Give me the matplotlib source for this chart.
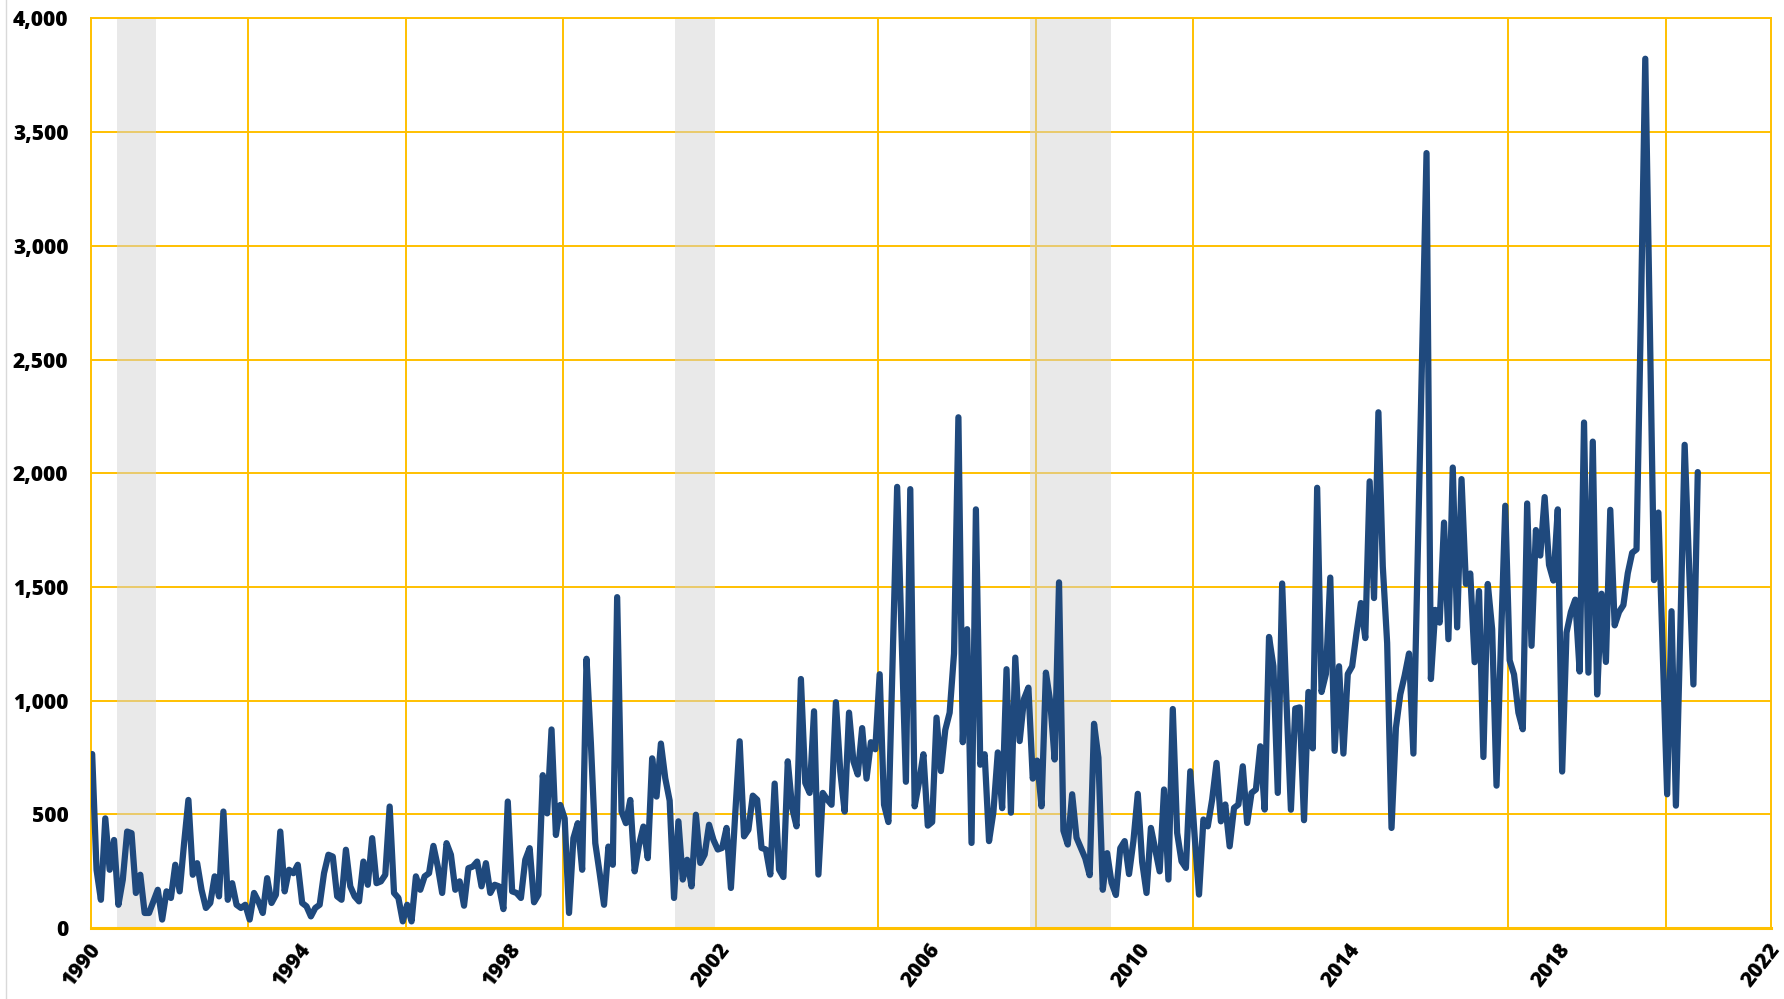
import numpy as np
import matplotlib
matplotlib.use("Agg")
from matplotlib import pyplot as plt
from matplotlib.ticker import FuncFormatter, MultipleLocator, FixedLocator
from matplotlib.lines import Line2D
from matplotlib.transforms import ScaledTranslation

# monthly values, Jan 1990 onwards
vals_1990s = [
    765, 256, 124, 482, 256, 387, 102, 212, 424, 417, 154, 234,
    66, 66, 117, 168, 37, 161, 132, 278, 161, 370, 563, 234,
    285, 168, 88, 110, 227, 139, 512, 124, 197, 102, 88, 102,
    37, 154, 117, 66, 219, 110, 146, 424, 161, 256, 241, 278,
    110, 95, 51, 88, 102, 241, 322, 314, 139, 124, 344, 183,
    139, 117, 292, 190, 395, 197, 205, 234, 534, 154, 132, 29,
    102, 29, 227, 168, 227, 241, 361, 270, 154, 373, 322, 168,
    205, 98, 263, 270, 292, 183, 285, 154, 190, 183, 83, 556,
    161, 154, 132, 300, 351, 113, 146, 672, 504, 873, 409, 541,
    482, 66, 395, 461, 256, 1184, 811, 373, 241, 102, 358, 278,
]
vals_2000s = [
    1455, 512, 461, 563, 249, 366, 446, 307, 746, 578, 811, 658,
    560, 132, 469, 213, 300, 183, 498, 286, 323, 454, 388, 345,
    352, 440, 176, 505, 821, 403, 432, 582, 564, 352, 345, 235,
    635, 257, 224, 733, 528, 447, 1095, 638, 594, 953, 235, 594,
    565, 542, 993, 688, 512, 947, 733, 675, 879, 657, 817, 786,
    1116, 542, 466, 1200, 1940, 1290, 643, 1930, 535, 642, 764, 450,
    466, 925, 690, 871, 947, 1207, 2246, 817, 1314, 374, 1841, 718,
    764, 382, 510, 772, 527, 1138, 507, 1189, 822, 1008, 1057, 657,
    736, 535, 1123, 993, 741, 1520, 428, 367, 588, 397, 351, 306,
    232, 898, 749, 168, 329, 199, 145, 351, 382, 237, 382, 590,
]
vals_2010s = [
    290, 154, 440, 345, 249, 609, 213, 963, 418, 293, 264, 689,
    403, 147, 477, 447, 565, 726, 469, 543, 359, 528, 543, 711,
    462, 594, 609, 799, 521, 1280, 1151, 594, 1515, 990, 520, 965,
    970, 474, 1038, 790, 1936, 1038, 1117, 1541, 779, 1151, 767, 1117,
    1151, 1298, 1429, 1275, 1964, 1451, 2268, 1591, 1253, 440, 880, 1027,
    1110, 1207, 767, 1650, 2530, 3408, 1095, 1399, 1343, 1783, 1270, 2025,
    1322, 1974, 1513, 1559, 1169, 1482, 752, 1513, 1314, 626, 1250, 1857,
    1177, 1115, 947, 874, 1867, 1241, 1750, 1638, 1895, 1597, 1528, 1841,
    688, 1299, 1390, 1444, 1128, 2223, 1123, 2139, 1027, 1470, 1170, 1839,
    1331, 1390, 1420, 1560, 1650, 1665, 2700, 3823, 2700, 1530, 1827, 1200,
]
vals_2020 = [588, 1393, 538, 1300, 2125, 1600, 1071, 2005]

recessions = [(1990.50, 1991.24), (2001.13, 2001.90), (2007.89, 2009.44)]
label_years = [1990, 1994, 1998, 2002, 2006, 2010, 2014, 2018, 2022]
grid_years = list(range(1990, 2021, 3))

values = np.array(vals_1990s + vals_2000s + vals_2010s + vals_2020, dtype=float)
months = np.arange(len(values))
x = 1990 + (months + 0.35) / 12.0

GOLD = "#FFC000"
BLUE = "#1F497D"
FONT = "Open Sans"

fig = plt.figure(figsize=(17.84, 9.99), dpi=100)
ax = fig.add_axes([0.0508, 0.0711, 0.9417, 0.9104])

for a, b in recessions:
    ax.axvspan(a, b, color="#D4D4D4", alpha=0.5, lw=0, zorder=1.5)

ax.plot(x, values, color=BLUE, lw=4.5, solid_joinstyle="round",
        solid_capstyle="round", zorder=3)

ax.set_xlim(1990, 2022)
ax.set_ylim(0, 4000)

ax.set_axisbelow(True)
ax.yaxis.set_major_locator(MultipleLocator(500))
ax.yaxis.set_major_formatter(FuncFormatter(lambda v, p: f"{int(v):,}"))
ax.set_xticks(label_years)
ax.xaxis.set_minor_locator(FixedLocator(grid_years))
ax.grid(axis="y", which="major", color=GOLD, lw=1.4, zorder=0)
ax.grid(axis="x", which="minor", color=GOLD, lw=1.4, zorder=0)
ax.grid(axis="x", which="major", visible=False)

for side in ["left", "right", "top"]:
    ax.spines[side].set_color(GOLD)
    ax.spines[side].set_linewidth(1.4)
ax.spines["bottom"].set_color(GOLD)
ax.spines["bottom"].set_linewidth(2.2)

ax.tick_params(axis="both", which="both", length=0)
ax.tick_params(axis="y", pad=16)
ax.tick_params(axis="x", pad=13)

for lab in ax.get_yticklabels():
    lab.set_fontfamily(FONT)
    lab.set_fontweight(800)
    lab.set_fontsize(15)
shift = ScaledTranslation(6 / 100, 0, fig.dpi_scale_trans)
for lab in ax.get_xticklabels():
    lab.set_fontfamily(FONT)
    lab.set_fontweight(800)
    lab.set_fontsize(15)
    lab.set_rotation(52)
    lab.set_ha("right")
    lab.set_va("center")
    lab.set_rotation_mode("anchor")
    lab.set_transform(lab.get_transform() + shift)

# faint chart-area border on the far left
fig.add_artist(Line2D([0.0034, 0.0034], [0, 1], transform=fig.transFigure,
                      color="#D9D9D9", lw=1))

fig.savefig("out.png", dpi=100)
